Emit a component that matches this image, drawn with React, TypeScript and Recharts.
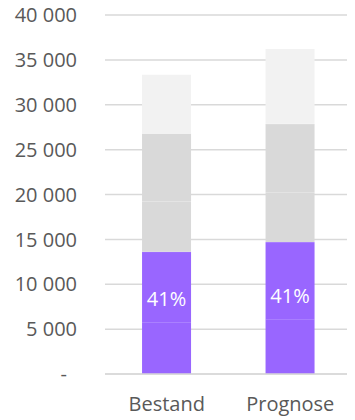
import React from "react";
import { BarChart, Bar, XAxis, YAxis, CartesianGrid, LabelList } from "recharts";

const categories = ["Bestand", "Prognose"];
const purpleLower = [5760, 6090];
const purpleUpper = [7860, 8610];
const grayLower = [5610, 5530];
const grayUpper = [7570, 7640];
const lightTop = [6530, 8330];
const shareLabels = ["41%", "41%"];
const yTicks = [0, 5000, 10000, 15000, 20000, 25000, 30000, 35000, 40000];

const data = categories.map((name, i) => ({
  name,
  p1: purpleLower[i],
  p2: purpleUpper[i],
  g1: grayLower[i],
  g2: grayUpper[i],
  l: lightTop[i],
  share: shareLabels[i],
}));

const PURPLE = "#9966FF";
const GRAY = "#D9D9D9";
const LIGHT = "#F2F2F2";
const TEXT = "#595959";
const FONT = "'Open Sans', 'Liberation Sans', sans-serif";

const fmt = (v: number) =>
  v === 0 ? "-" : String(v).replace(/\B(?=(\d{3})+(?!\d))/g, " ");

const YTick = (props: any) => {
  const { x, y, payload } = props;
  const isZero = payload.value === 0;
  return (
    <text
      x={isZero ? x - 10 : x}
      y={y}
      dy="0.36em"
      textAnchor="end"
      fill={TEXT}
      fontSize={20}
      fontFamily={FONT}
    >
      {fmt(payload.value)}
    </text>
  );
};

const SegShape = (sep: string) => (props: any) => {
  const { x, y, width, height, fill } = props;
  return (
    <g>
      <rect x={x} y={y} width={width} height={height} fill={fill} />
      <line x1={x} x2={x + width} y1={y} y2={y} stroke={sep} strokeWidth={1} />
    </g>
  );
};

const ShareLabel = (props: any) => {
  const { x, y, width, height, value } = props;
  return (
    <text
      x={x + width / 2}
      y={y + height - 24}
      dy="0.36em"
      textAnchor="middle"
      fill="#FFFFFF"
      fontSize={20}
      fontFamily={FONT}
    >
      {value}
    </text>
  );
};

export default function App() {
  return (
    <div style={{ width: 355, height: 420, marginLeft: -8, marginTop: -8 }}>
      <BarChart
        width={355}
        height={420}
        data={data}
        margin={{ top: 15, right: 3, left: 0, bottom: 0 }}
        barCategoryGap="30%"
      >
        <CartesianGrid vertical={false} stroke={GRAY} strokeWidth={1.5} />
        <XAxis
          dataKey="name"
          height={46}
          tickLine={false}
          axisLine={{ stroke: GRAY, strokeWidth: 1.5 }}
          tickSize={0}
          tickMargin={23}
          tick={{ fill: TEXT, fontSize: 20, fontFamily: FONT }}
        />
        <YAxis
          width={105}
          domain={[0, 40000]}
          ticks={yTicks}
          interval={0}
          axisLine={false}
          tickLine={false}
          tickSize={0}
          tickMargin={28}
          tick={<YTick />}
        />
        <Bar dataKey="p1" stackId="a" fill={PURPLE} isAnimationActive={false} />
        <Bar
          dataKey="p2"
          stackId="a"
          fill={PURPLE}
          isAnimationActive={false}
          shape={SegShape("rgba(255,255,255,0.2)")}
        >
          <LabelList dataKey="share" content={<ShareLabel />} />
        </Bar>
        <Bar dataKey="g1" stackId="a" fill={GRAY} isAnimationActive={false} />
        <Bar
          dataKey="g2"
          stackId="a"
          fill={GRAY}
          isAnimationActive={false}
          shape={SegShape("rgba(255,255,255,0.35)")}
        />
        <Bar dataKey="l" stackId="a" fill={LIGHT} isAnimationActive={false} />
      </BarChart>
    </div>
  );
}
